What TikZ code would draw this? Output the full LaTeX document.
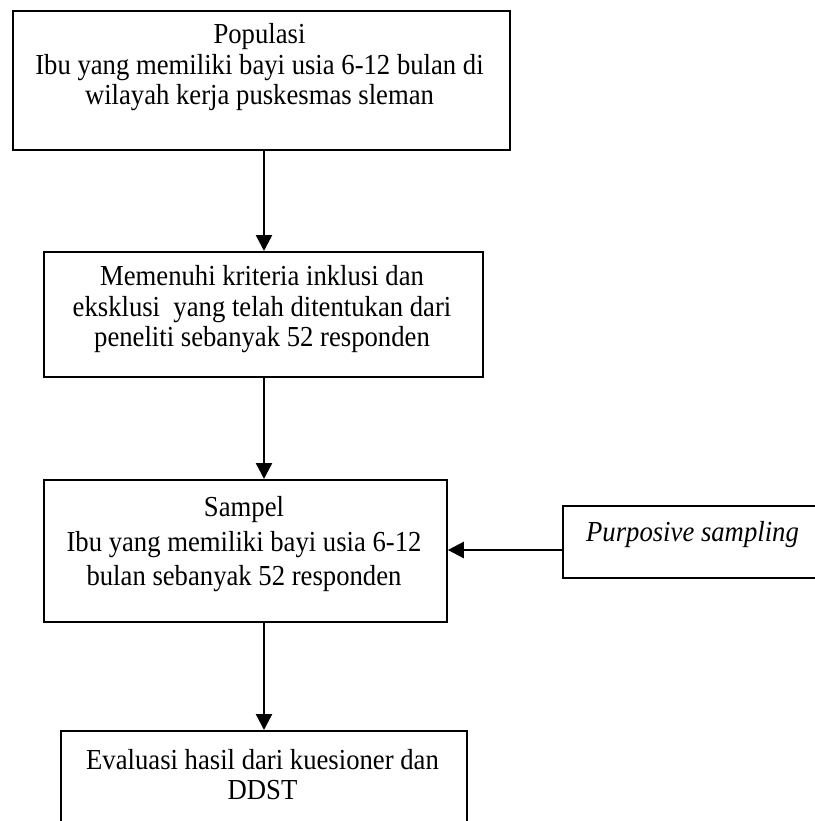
\documentclass[tikz,border=0pt]{standalone}
\usepackage{fontspec}
\setmainfont[FakeStretch=0.92]{Liberation Serif}
\usetikzlibrary{arrows.meta}
\begin{document}
\begin{tikzpicture}[x=1pt,y=-1pt,
  box/.style={draw, line width=1.8pt, rectangle, inner sep=0pt, anchor=north west},
  txt/.style={align=center, inner sep=0pt, font=\fontsize{29}{30.5}\selectfont},
  arr/.style={line width=2.4pt, -{Triangle[length=16pt,width=16pt]}}]
\useasboundingbox (0,0) rectangle (814,821);
% boxes
\node[box, minimum width=497pt, minimum height=139pt] (b1) at (12,10) {};
\node[box, minimum width=439pt, minimum height=125pt] (b2) at (43,251) {};
\node[box, minimum width=403pt, minimum height=142pt] (b3) at (43,479) {};
\node[box, minimum width=270pt, minimum height=72pt] (pb) at (562,505) {};
\node[box, minimum width=406pt, minimum height=120pt] (b4) at (60,730) {};
% texts
\node[txt] (t1) at (259.5,67.5) {Populasi\\Ibu yang memiliki bayi usia 6-12 bulan di\\wilayah kerja puskesmas sleman};
\node[txt] (t2) at (262,309.5) {Memenuhi kriteria inklusi dan\\eksklusi\ \ yang telah ditentukan dari\\peneliti sebanyak 52 responden};
\node[txt, font=\fontsize{29}{34.5}\selectfont] (t3) at (244,544.5) {Sampel\\Ibu yang memiliki bayi usia 6-12\\bulan sebanyak 52 responden};
\node[txt, font=\fontsize{29}{30}\selectfont\itshape] (t5) at (692.5,535) {Purposive sampling};
\node[txt, font=\fontsize{29}{30}\selectfont] (t4) at (262.5,775) {Evaluasi hasil dari kuesioner dan\\DDST};
% connectors
\coordinate (spine) at (264,0);
\coordinate (py) at (0,550);
\draw[arr] (b1.south -| spine) -- (b2.north -| spine);
\draw[arr] (b2.south -| spine) -- (b3.north -| spine);
\draw[arr] (b3.south -| spine) -- (b4.north -| spine);
\draw[arr] (pb.west |- py) -- (b3.east |- py);
\end{tikzpicture}
\end{document}
